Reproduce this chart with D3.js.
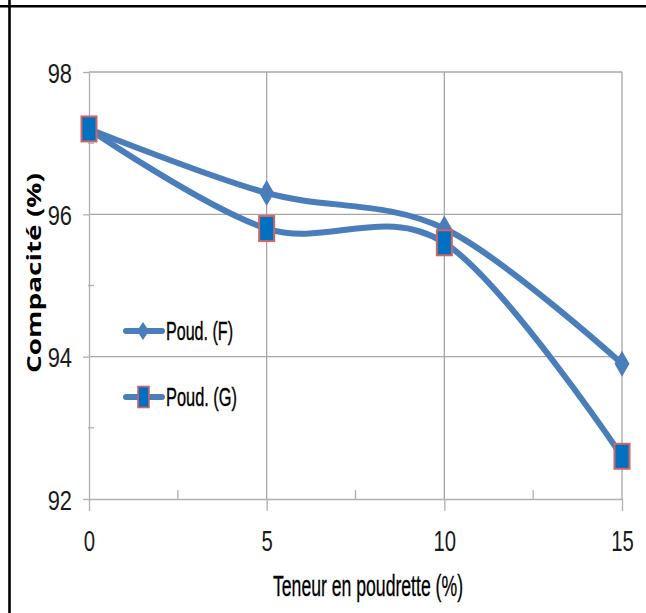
<!DOCTYPE html>
<html>
<head>
<meta charset="utf-8">
<script src="https://cdn.jsdelivr.net/npm/d3@7"></script>
<style>
  html, body { margin: 0; padding: 0; background: #fff; }
  svg { display: block; }
</style>
</head>
<body>
<svg id="chart" width="646" height="613"></svg>
<script>
// Teneur en poudrette (%) on x, compacité (%) on y
const teneur = [0, 5, 10, 15];
const poudF = [97.2, 96.3, 95.8, 93.9];
const poudG = [97.2, 95.8, 95.6, 92.6];
const seriesNames = ["Poud. (F)", "Poud. (G)"];
const xTicks = [0, 5, 10, 15];
const xMinorTicks = [2.5, 7.5, 12.5];
const yTicks = [92, 94, 96, 98];
const yMinorTicks = [93, 95, 97];

const svg = d3.select("#chart");
const W = 646, H = 613;

const x = d3.scaleLinear().domain([0, 15]).range([89, 622]);
const y = d3.scaleLinear().domain([92, 98]).range([499, 72]);

const lineColor = "#4a7ebb";
const gridColor = "#a6a6a6";
const axisColor = "#b0b0b0";
const sansFont = "'Liberation Sans', Arial, sans-serif";

// squeeze a text element horizontally to a fraction of its natural width
function condense(sel, k) {
  sel.each(function () {
    const len = this.getComputedTextLength();
    d3.select(this).attr("textLength", len * k).attr("lengthAdjust", "spacingAndGlyphs");
  });
}

// page frame lines
svg.append("line").attr("x1", 0).attr("x2", W).attr("y1", 6.2).attr("y2", 6.2)
  .attr("stroke", "#000").attr("stroke-width", 2.6);
svg.append("line").attr("x1", 9.5).attr("x2", 9.5).attr("y1", 0).attr("y2", H)
  .attr("stroke", "#000").attr("stroke-width", 2.6);

// horizontal gridlines
svg.append("g").selectAll("line").data(yTicks.filter(d => d !== 92)).join("line")
  .attr("x1", x(0)).attr("x2", x(15))
  .attr("y1", d => y(d)).attr("y2", d => y(d))
  .attr("stroke", gridColor).attr("stroke-width", 1.3);

// vertical gridlines
svg.append("g").selectAll("line").data(xTicks.filter(d => d !== 0)).join("line")
  .attr("x1", d => x(d)).attr("x2", d => x(d))
  .attr("y1", y(98)).attr("y2", y(92))
  .attr("stroke", gridColor).attr("stroke-width", 1.3);

// y axis
const yAxis = svg.append("g").attr("transform", `translate(${x(0)},0)`)
  .call(d3.axisLeft(y).tickValues(yTicks).tickFormat(d3.format("d"))
    .tickSize(6).tickPadding(11).tickSizeOuter(0));
yAxis.select(".domain").attr("stroke", axisColor).attr("stroke-width", 1.3);
yAxis.selectAll(".tick line").attr("stroke", axisColor).attr("stroke-width", 1.3);
yAxis.selectAll(".tick text")
  .attr("font-family", sansFont).attr("font-size", 28).attr("fill", "#1a1a1a")
  .attr("dy", "0.36em")
  .call(condense, 0.78);
svg.append("g").selectAll("line").data(yMinorTicks).join("line")
  .attr("x1", x(0) - 1).attr("x2", x(0) + 5)
  .attr("y1", d => y(d)).attr("y2", d => y(d))
  .attr("stroke", axisColor).attr("stroke-width", 1.3);

// x axis
const xAxis = svg.append("g").attr("transform", `translate(0,${y(92)})`)
  .call(d3.axisBottom(x).tickValues(xTicks).tickFormat(d3.format("d"))
    .tickSize(12).tickPadding(19).tickSizeOuter(0));
xAxis.select(".domain").attr("stroke", axisColor).attr("stroke-width", 1.3);
xAxis.selectAll(".tick line").attr("stroke", axisColor).attr("stroke-width", 1.3);
xAxis.selectAll(".tick text")
  .attr("font-family", sansFont).attr("font-size", 29).attr("fill", "#1a1a1a")
  .call(condense, 0.7);
svg.append("g").selectAll("line").data(xMinorTicks).join("line")
  .attr("x1", d => x(d)).attr("x2", d => x(d))
  .attr("y1", y(92)).attr("y2", y(92) - 9)
  .attr("stroke", axisColor).attr("stroke-width", 1.3);

// axis titles
svg.append("text")
  .attr("x", 273).attr("y", 596)
  .attr("font-family", sansFont)
  .attr("font-size", 29).attr("fill", "#000")
  .attr("stroke", "#000").attr("stroke-width", 0.3)
  .attr("textLength", 190).attr("lengthAdjust", "spacingAndGlyphs")
  .text("Teneur en poudrette  (%)");

svg.append("text")
  .attr("transform", "translate(41,373) rotate(-90)")
  .attr("font-family", "'Open Sans', 'DejaVu Sans', sans-serif")
  .attr("font-weight", "bold")
  .attr("font-size", 19).attr("fill", "#000")
  .attr("textLength", 200).attr("lengthAdjust", "spacingAndGlyphs")
  .text("Compacité (%)");

// series
const curve = d3.curveCardinal.tension(0);
const lineGen = d3.line().x(d => x(d[0])).y(d => y(d[1])).curve(curve);
const dataF = teneur.map((t, i) => [t, poudF[i]]);
const dataG = teneur.map((t, i) => [t, poudG[i]]);

function diamond(w, h) {
  return `M0,${-h / 2}L${w / 2},0L0,${h / 2}L${-w / 2},0Z`;
}

function drawSeries(data, kind) {
  const g = svg.append("g");
  g.append("path").datum(data).attr("d", lineGen)
    .attr("fill", "none").attr("stroke", lineColor)
    .attr("stroke-width", 6).attr("stroke-linejoin", "round").attr("stroke-linecap", "round");
  const m = g.selectAll("g.marker").data(data).join("g")
    .attr("class", "marker")
    .attr("transform", d => `translate(${x(d[0])},${y(d[1])})`);
  if (kind === "diamond") {
    m.append("path").attr("d", diamond(15, 26)).attr("fill", lineColor);
  } else {
    m.append("rect").attr("x", -7.5).attr("y", -12.5).attr("width", 15).attr("height", 25)
      .attr("fill", "#0070c0").attr("stroke", "#d06565").attr("stroke-width", 2);
  }
}
drawSeries(dataF, "diamond");
drawSeries(dataG, "square");

// legend
const legend = svg.append("g");
const legendRows = [
  { name: seriesNames[0], kind: "diamond", yy: 331 },
  { name: seriesNames[1], kind: "square", yy: 397 }
];
legendRows.forEach(r => {
  legend.append("line").attr("x1", 126).attr("x2", 162).attr("y1", r.yy).attr("y2", r.yy)
    .attr("stroke", lineColor).attr("stroke-width", 6).attr("stroke-linecap", "round");
  if (r.kind === "diamond") {
    legend.append("path").attr("transform", `translate(143,${r.yy})`)
      .attr("d", diamond(12, 18)).attr("fill", lineColor);
  } else {
    legend.append("rect").attr("x", 138).attr("y", r.yy - 10.5).attr("width", 11).attr("height", 21)
      .attr("fill", "#0070c0").attr("stroke", "#d06565").attr("stroke-width", 1.6);
  }
  legend.append("text").attr("x", 166).attr("y", r.yy + 9)
    .attr("font-family", sansFont)
    .attr("font-size", 26).attr("fill", "#000")
    .attr("stroke", "#000").attr("stroke-width", 0.4)
    .attr("textLength", r.kind === "diamond" ? 67 : 71).attr("lengthAdjust", "spacingAndGlyphs")
    .text(r.name);
});
</script>
</body>
</html>
